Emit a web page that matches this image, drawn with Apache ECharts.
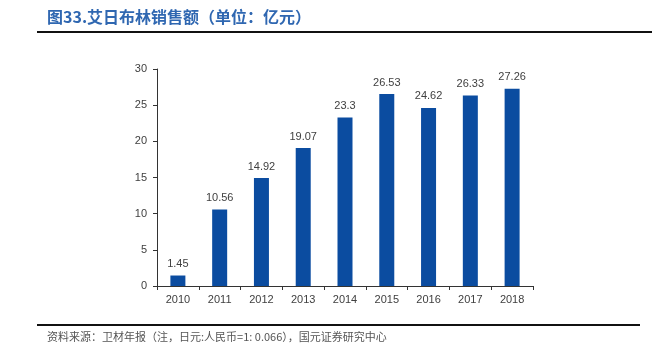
<!DOCTYPE html>
<html lang="zh">
<head>
    <meta charset="UTF-8">
    <title>艾日布林销售额</title>
    <script src="https://cdn.jsdelivr.net/npm/echarts@6/dist/echarts.min.js"></script>
</head>
<body style="margin:0;background:#fff;">
<div id="container" style="width:665px;height:354px;"></div>
<script>
    // 年份与销售额（亿元）
    var years = ['2010', '2011', '2012', '2013', '2014', '2015', '2016', '2017', '2018'];
    var sales = [1.45, 10.56, 14.92, 19.07, 23.3, 26.53, 24.62, 26.33, 27.26];

    var myChart = echarts.init(document.getElementById('container'));
    var font = '"Liberation Sans", Arial, "Noto Sans CJK SC", sans-serif';

    myChart.setOption({
        backgroundColor: '#fff',
        animation: false,
        textStyle: {fontFamily: font},
        grid: {left: 157, right: 132, top: 69, bottom: 68},
        graphic: [
            {
                type: 'text', left: 47, top: 9,
                style: {
                    text: '图33.艾日布林销售额（单位：亿元）',
                    fill: '#2f67b1', font: 'bold 16px "Noto Sans CJK SC", sans-serif'
                }
            },
            {type: 'rect', shape: {x: 37, y: 31, width: 615, height: 2}, style: {fill: '#111'}},
            {type: 'rect', shape: {x: 37, y: 324, width: 603, height: 2}, style: {fill: '#111'}},
            {
                type: 'text', left: 47, top: 331,
                style: {
                    text: '资料来源：卫材年报（注，日元:人民币=1: 0.066），国元证券研究中心',
                    fill: '#555', font: '11px "Noto Sans CJK SC", sans-serif'
                }
            }
        ],
        xAxis: {
            type: 'category',
            data: years,
            axisLine: {lineStyle: {color: '#333', width: 1}},
            axisTick: {show: true, alignWithLabel: false, length: 4, lineStyle: {color: '#333'}},
            axisLabel: {color: '#404040', fontSize: 11, margin: 8}
        },
        yAxis: {
            type: 'value',
            min: 0, max: 30, interval: 5,
            axisLine: {show: true, lineStyle: {color: '#333', width: 1}},
            axisTick: {show: true, length: 4, lineStyle: {color: '#333'}},
            axisLabel: {color: '#404040', fontSize: 11, margin: 10},
            splitLine: {show: false}
        },
        series: [{
            type: 'bar',
            data: sales,
            barWidth: 15,
            itemStyle: {color: '#0b4ca0'},
            label: {
                show: true, position: 'top', distance: 6,
                color: '#404040', fontSize: 11
            }
        }]
    });
</script>
</body>
</html>
